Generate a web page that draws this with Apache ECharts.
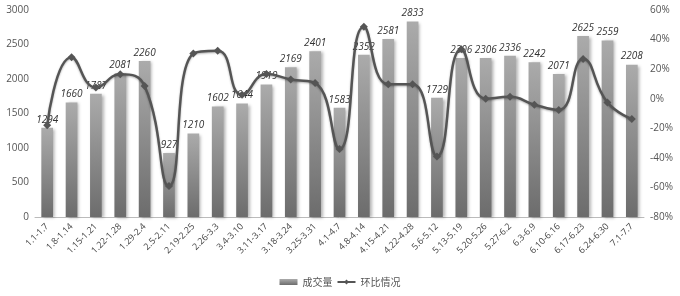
<!DOCTYPE html>
<html><head><meta charset="utf-8">
<script src="https://cdn.jsdelivr.net/npm/echarts@6/dist/echarts.min.js"></script>
<style>html,body{margin:0;padding:0;background:#fff}#c{width:680px;height:296px}</style>
</head><body><div id="c"></div>
<script>
var categories = ['1.1-1.7','1.8-1.14','1.15-1.21','1.22-1.28','1.29-2.4','2.5-2.11','2.19-2.25','2.26-3.3','3.4-3.10','3.11-3.17','3.18-3.24','3.25-3.31','4.1-4.7','4.8-4.14','4.15-4.21','4.22-4.28','5.6-5.12','5.13-5.19','5.20-5.26','5.27-6.2','6.3-6.9','6.10-6.16','6.17-6.23','6.24-6.30','7.1-7.7'];
var volume = [1294,1660,1787,2081,2260,927,1210,1602,1644,1919,2169,2401,1583,2352,2581,2833,1729,2306,2306,2336,2242,2071,2625,2559,2208];
var ringRatio = [-18,28,7.6,16.5,8.6,-59,30.5,32.4,2.6,16.7,13,10.7,-34,48.6,9.7,9.8,-39,33.4,0,1.3,-4,-7.6,26.8,-2.5,-13.7];
var leftTicks = {min:0,max:3000,interval:500};
var rightTicks = {min:-80,max:60,interval:20};

var chart = echarts.init(document.getElementById('c'));
chart.setOption({
  animation:false,
  textStyle:{fontFamily:'Open Sans, Noto Sans CJK SC, sans-serif'},
  grid:{left:35,right:36,top:10,bottom:79},
  legend:{
    bottom:4,left:'center',itemGap:4,itemWidth:18,itemHeight:6,
    textStyle:{fontSize:10,color:'#555',fontFamily:'Noto Sans CJK SC, sans-serif'},
    data:[{name:'成交量',icon:'rect'},{name:'环比情况'}]
  },
  xAxis:{
    type:'category',data:categories,
    axisLine:{lineStyle:{color:'#bbb'}},
    axisTick:{show:false},
    axisLabel:{rotate:45,fontSize:9,color:'#444',interval:0,margin:8}
  },
  yAxis:[
    {type:'value',min:leftTicks.min,max:leftTicks.max,interval:leftTicks.interval,
     splitLine:{show:false},axisLine:{show:false},axisTick:{show:false},
     axisLabel:{fontSize:10,color:'#555',margin:6,formatter:function(v){return String(v);}}},
    {type:'value',min:rightTicks.min,max:rightTicks.max,interval:rightTicks.interval,
     splitLine:{show:false},axisLine:{show:false},axisTick:{show:false},
     axisLabel:{fontSize:10,color:'#555',margin:6,formatter:'{value}%'}}
  ],
  series:[
    {name:'成交量',type:'bar',data:volume,barWidth:'48%',
     itemStyle:{
       color:new echarts.graphic.LinearGradient(0,0,0,1,[{offset:0,color:'#ababab'},{offset:1,color:'#6c6c6c'}]),
       shadowColor:'rgba(0,0,0,0.3)',shadowBlur:3,shadowOffsetX:2,shadowOffsetY:1
     },
     label:{show:true,position:'top',fontSize:10,fontStyle:'italic',color:'#333',distance:3}
    },
    {name:'环比情况',type:'line',yAxisIndex:1,data:ringRatio,smooth:0.5,
     symbol:'diamond',symbolSize:8,
     lineStyle:{color:'#555',width:2.5,shadowColor:'rgba(0,0,0,0.3)',shadowBlur:2,shadowOffsetY:1},
     itemStyle:{color:'#555'}
    }
  ]
});
</script></body></html>
